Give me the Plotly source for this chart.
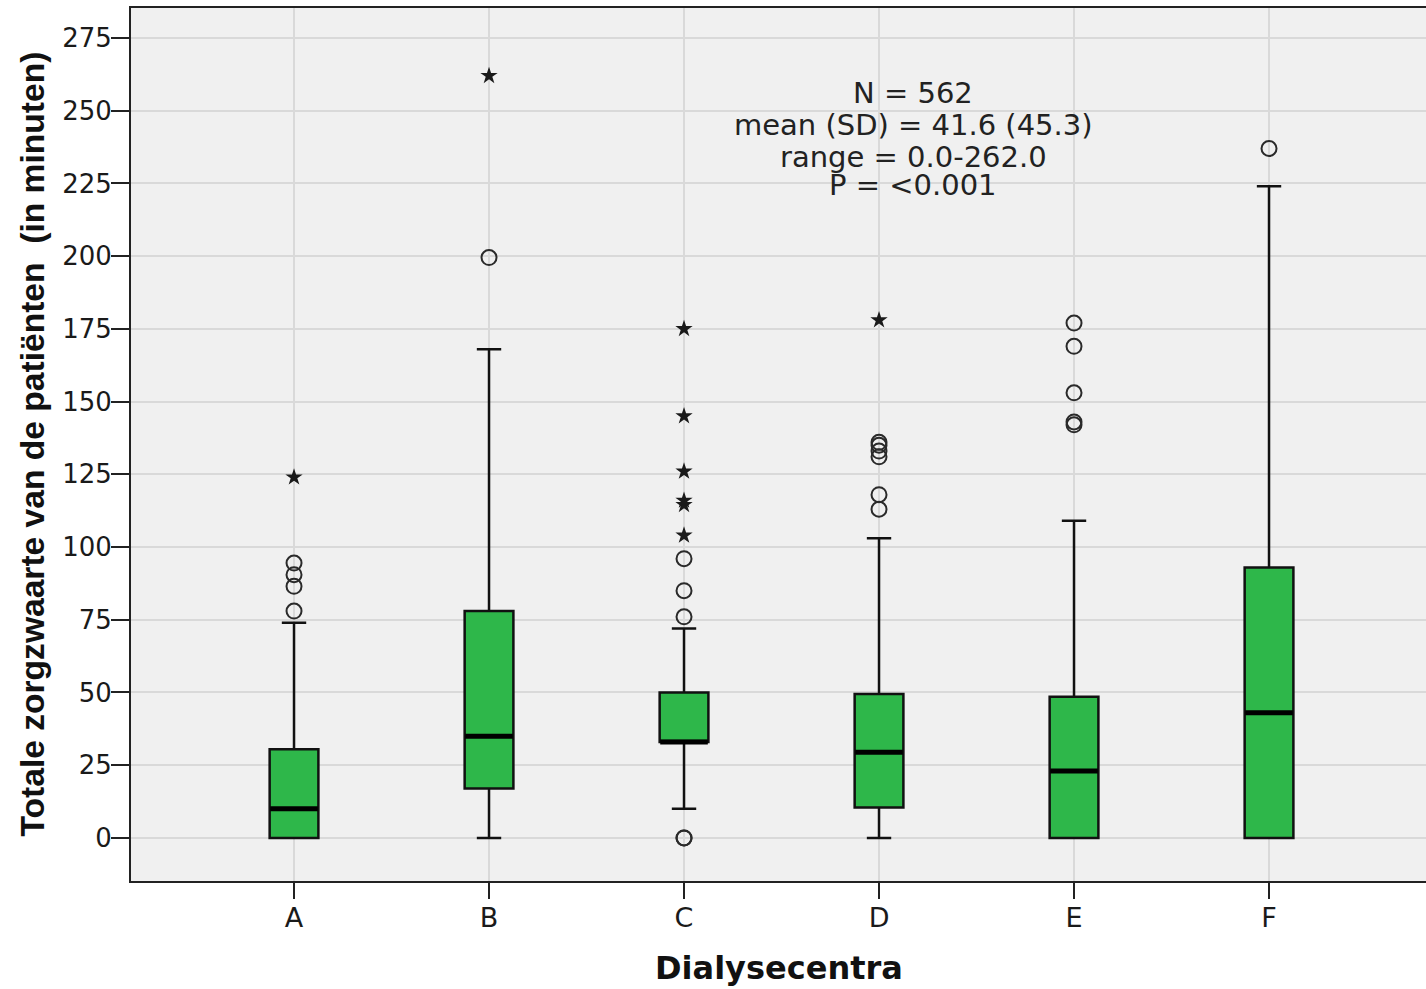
import plotly.graph_objects as go

# ---------------- data ----------------
centers = ["A", "B", "C", "D", "E", "F"]
q1 = [0, 17, 33, 10.5, 0, 0]
median = [10, 35, 33, 29.5, 23, 43]
q3 = [30.5, 78, 50, 49.5, 48.5, 93]
lower_whisker = [0, 0, 10, 0, 0, 0]
upper_whisker = [74, 168, 72, 103, 109, 224]

circle_outliers = {
    "A": [78, 86.5, 90.5, 94.5],
    "B": [199.5],
    "C": [0, 0, 76, 85, 96],
    "D": [113, 118, 131, 133, 135, 136],
    "E": [142, 143, 153, 169, 177],
    "F": [237],
}
star_outliers = {
    "A": [124],
    "B": [262],
    "C": [104, 114.5, 116, 126, 145, 175],
    "D": [178],
}

y_tick_values = [0, 25, 50, 75, 100, 125, 150, 175, 200, 225, 250, 275]
y_tick_labels = ["0", "25", "50", "75", "100", "125", "150", "175", "200", "225", "250", "275"]

stats_lines = ["N = 562", "mean (SD) = 41.6 (45.3)", "range = 0.0-262.0", "P = <0.001"]
stats_line_y = [256, 245, 234.2, 224.6]
stats_x = 3.175

x_title = "Dialysecentra"
y_title = "Totale zorgzwaarte van de patiënten \u00a0(in minuten)"

# ---------------- figure ----------------
fig = go.Figure()

fig.add_trace(go.Box(
    x=centers, q1=q1, median=median, q3=q3,
    lowerfence=lower_whisker, upperfence=upper_whisker,
    fillcolor="rgb(46,183,74)",
    line=dict(color="#111111", width=2.5),
    width=0.25, whiskerwidth=0.5,
    boxpoints=False, showlegend=False, hoverinfo="skip",
))

# thicker median bars
fig.add_trace(go.Scatter(
    x=centers, y=median, mode="markers",
    marker=dict(symbol="line-ew", size=34, color="#000000",
                line=dict(width=5, color="#000000")),
    showlegend=False, hoverinfo="skip",
))

cx, cy = [], []
for k, vals in circle_outliers.items():
    cx += [k] * len(vals)
    cy += vals
fig.add_trace(go.Scatter(
    x=cx, y=cy, mode="markers",
    marker=dict(symbol="circle-open", size=15, color="#2a2a2a",
                line=dict(width=2, color="#2a2a2a")),
    showlegend=False, hoverinfo="skip",
))

sx, sy = [], []
for k, vals in star_outliers.items():
    sx += [k] * len(vals)
    sy += vals
fig.add_trace(go.Scatter(
    x=sx, y=sy, mode="markers",
    marker=dict(symbol="star", size=13, color="#1a1a1a", line=dict(width=0)),
    showlegend=False, hoverinfo="skip",
))

for txt, yy in zip(stats_lines, stats_line_y):
    fig.add_annotation(
        x=stats_x, y=yy, xref="x", yref="y", text=txt, showarrow=False,
        xanchor="center", yanchor="middle",
        font=dict(family="DejaVu Sans", size=29, color="#222222"),
    )

fig.add_annotation(
    x=0, y=0.5, xref="paper", yref="paper", text=y_title, showarrow=False,
    textangle=-90, xanchor="center", yanchor="middle", xshift=-99,
    font=dict(family="Liberation Sans", size=33.6, color="#111111", weight="bold"),
)
fig.add_annotation(
    x=0.5, y=0, xref="paper", yref="paper", text=x_title, showarrow=False,
    xanchor="center", yanchor="middle", yshift=-87,
    font=dict(family="DejaVu Sans", size=32, color="#111111", weight="bold"),
)

fig.update_layout(
    width=1426, height=989,
    margin=dict(l=131, r=0, t=8, b=108),
    paper_bgcolor="#ffffff", plot_bgcolor="#f0f0f0",
    showlegend=False,
)
fig.update_xaxes(
    type="category", categoryorder="array", categoryarray=centers,
    range=[-0.836, 5.805],
    showgrid=True, gridcolor="#d9d9d9", gridwidth=2,
    showline=True, linecolor="#222222", linewidth=2, mirror=True,
    ticks="outside", ticklen=16, tickwidth=2, tickcolor="#222222",
    ticklabelstandoff=-4,
    tickfont=dict(family="DejaVu Sans", size=27, color="#1a1a1a"),
    zeroline=False, fixedrange=True,
)
fig.update_yaxes(
    range=[-14.8, 285.3],
    tickmode="array", tickvals=y_tick_values, ticktext=y_tick_labels,
    showgrid=True, gridcolor="#d9d9d9", gridwidth=2,
    showline=True, linecolor="#222222", linewidth=2, mirror=False,
    ticks="outside", ticklen=18, tickwidth=2, tickcolor="#222222",
    ticklabelstandoff=-6,
    tickfont=dict(family="DejaVu Sans", size=26, color="#1a1a1a"),
    zeroline=False, fixedrange=True,
)

fig.write_html(
    "out.html",
    config={"displayModeBar": False},
    post_script="document.body.style.margin='0';document.body.style.padding='0';",
)
